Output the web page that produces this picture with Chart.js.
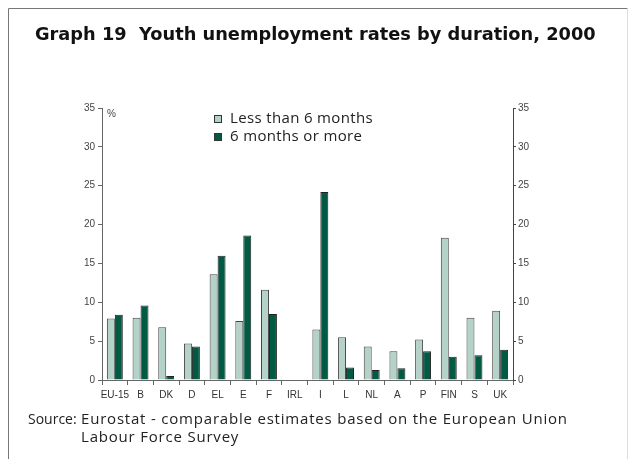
<!DOCTYPE html>
<html>
<head>
<meta charset="utf-8">
<script src="https://cdn.jsdelivr.net/npm/chart.js@4.4.1/dist/chart.umd.min.js"></script>
<style>
  html, body { margin: 0; padding: 0; background: #fff; }
  #wrap { width: 629px; height: 459px; }
</style>
</head>
<body>
<div id="wrap"><canvas id="myChart" width="629" height="459"></canvas></div>
<script>
// Youth unemployment rates by duration, 2000 (%)
const countries = ['EU-15', 'B', 'DK', 'D', 'EL', 'E', 'F', 'IRL', 'I', 'L', 'NL', 'A', 'P', 'FIN', 'S', 'UK'];
const lessThan6 = [7.9, 8.0, 6.8, 4.7, 13.6, 7.6, 11.6, null, 6.5, 5.5, 4.3, 3.7, 5.2, 18.3, 8.0, 8.9];
const sixOrMore = [8.4, 9.6, 0.5, 4.3, 16.0, 18.6, 8.5, null, 24.2, 1.6, 1.3, 1.5, 3.7, 3.0, 3.2, 3.9];
const yTicks = [0, 5, 10, 15, 20, 25, 30, 35];

const lightGreen = '#b5d2c8';
const darkGreen = '#005a44';
const tickFont = "'Liberation Sans', Arial, sans-serif";
const textFont = "'Open Sans', 'DejaVu Sans', sans-serif";

// frame, title, legend and source note
const decorations = {
  id: 'decorations',
  afterDraw(chart) {
    const ctx = chart.ctx;
    ctx.save();
    ctx.strokeStyle = '#777';
    ctx.lineWidth = 1;
    ctx.beginPath();
    ctx.moveTo(8.5, 459);
    ctx.lineTo(8.5, 8.5);
    ctx.lineTo(627.5, 8.5);
    ctx.stroke();
    ctx.strokeStyle = '#ddd';
    ctx.beginPath();
    ctx.moveTo(627.5, 8.5);
    ctx.lineTo(627.5, 459);
    ctx.stroke();

    ctx.fillStyle = '#111';
    ctx.textBaseline = 'middle';
    ctx.font = "bold 17.8px 'DejaVu Sans', sans-serif";
    ctx.fillText('Graph 19  Youth unemployment rates by duration, 2000', 35, 35);

    // legend
    const items = [['Less than 6 months', lightGreen], ['6 months or more', darkGreen]];
    ctx.font = '15px ' + textFont;
    ctx.letterSpacing = '0.35px';
    items.forEach((it, i) => {
      const y = 119 + i * 18;
      ctx.fillStyle = it[1];
      ctx.fillRect(214, y - 4, 8, 8);
      ctx.strokeStyle = '#333';
      ctx.strokeRect(214.5, y - 3.5, 7, 7);
      ctx.fillStyle = '#222';
      ctx.fillText(it[0], 230, y);
    });
    ctx.letterSpacing = '0px';

    // unit label
    ctx.font = '10px ' + tickFont;
    ctx.fillStyle = '#444';
    ctx.fillText('%', 107, 114);

    // source
    ctx.font = '14px ' + textFont;
    ctx.fillStyle = '#222';
    ctx.fillText('Source:', 28, 420);
    ctx.font = '15px ' + textFont;
    ctx.letterSpacing = '0.8px';
    ctx.fillText('Eurostat - comparable estimates based on the European Union', 81, 420);
    ctx.fillText('Labour Force Survey', 81, 438);
    ctx.restore();
  }
};

const ctx = document.getElementById('myChart').getContext('2d');
const chart = new Chart(ctx, {
  type: 'bar',
  data: {
    labels: countries,
    datasets: [{
      label: 'Less than 6 months',
      data: lessThan6,
      backgroundColor: lightGreen,
      borderColor: '#444',
      borderWidth: 1,
      yAxisID: 'y'
    }, {
      label: '6 months or more',
      data: sixOrMore,
      backgroundColor: darkGreen,
      borderColor: '#222',
      borderWidth: 1,
      yAxisID: 'y'
    }]
  },
  options: {
    responsive: false,
    animation: false,
    categoryPercentage: 0.62,
    barPercentage: 1,
    layout: { padding: { top: 108, left: 0, right: 0, bottom: 0 } },
    plugins: {
      legend: { display: false },
      tooltip: { enabled: false }
    },
    scales: {
      x: {
        offset: true,
        afterFit: s => { s.height = 79; },
        border: { color: '#666' },
        grid: { offset: true, drawOnChartArea: false, tickLength: 5, color: '#666' },
        ticks: { color: '#333', font: { size: 10, family: tickFont }, padding: 4, maxRotation: 0, autoSkip: false }
      },
      y: {
        position: 'left',
        min: 0,
        max: 35,
        afterBuildTicks: s => { s.ticks = yTicks.map(v => ({ value: v })); },
        afterFit: s => { s.width = 102; },
        border: { color: '#666' },
        grid: { drawOnChartArea: false, tickLength: 4, color: '#666' },
        ticks: { color: '#444', font: { size: 10, family: tickFont }, padding: 3 }
      },
      y2: {
        position: 'right',
        min: 0,
        max: 35,
        afterBuildTicks: s => { s.ticks = yTicks.map(v => ({ value: v })); },
        afterFit: s => { s.width = 116; },
        border: { color: '#444' },
        grid: { drawOnChartArea: false, tickLength: 3, color: '#444' },
        ticks: { color: '#444', font: { size: 10, family: tickFont }, padding: 2 }
      }
    }
  },
  plugins: [decorations]
});
</script>
</body>
</html>
